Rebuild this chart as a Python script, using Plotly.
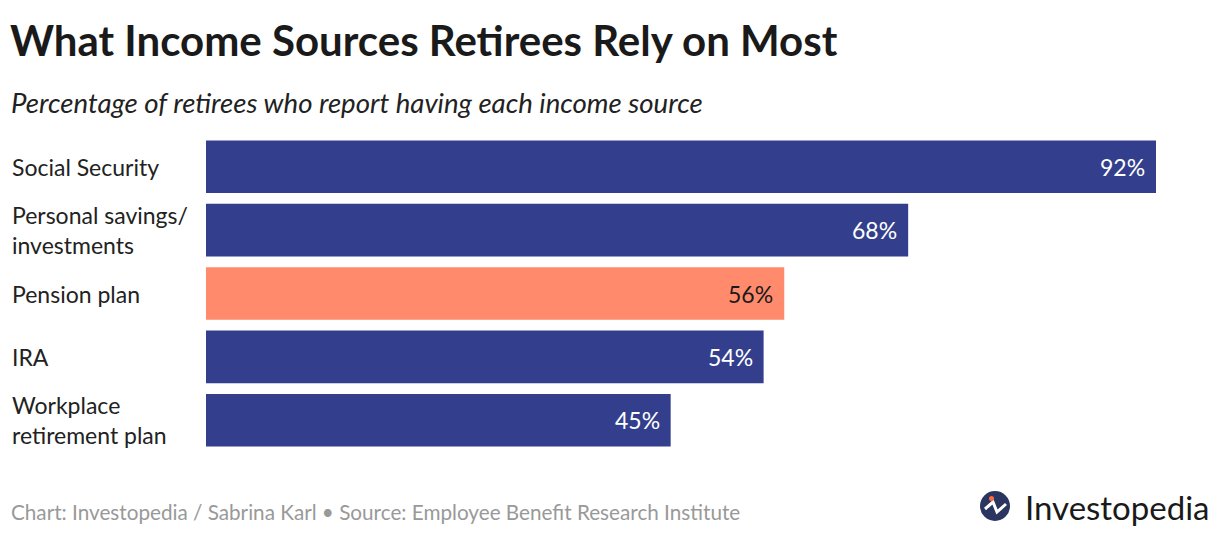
import plotly.graph_objects as go

# data
sources = ["Social Security", "Personal savings/<br>investments", "Pension plan",
           "IRA", "Workplace<br>retirement plan"]
share = [92, 68, 56, 54, 45]
highlight = "Pension plan"

navy = "#333f8c"
coral = "#ff8b6c"
font = "Lato"

# page has an 8px body margin, so the figure sits at (8, 8) in the screenshot
W, H = 1220, 536
OFF = 8
L, R, T, B = 206 - OFF, W - (1156 - OFF), 135 - OFF, H - (452 - OFF)
plot_w = W - L - R
plot_h = H - T - B


def px(x):
    # screenshot x pixel -> paper coordinate
    return (x - OFF - L) / plot_w


def py(y):
    # screenshot y pixel -> paper coordinate
    return (H - B - (y - OFF)) / plot_h


colors = [coral if s == highlight else navy for s in sources]

fig = go.Figure(go.Bar(
    y=sources,
    x=share,
    orientation="h",
    marker=dict(color=colors, line=dict(width=0)),
    hoverinfo="skip",
))

# value labels just inside the bar ends
for s, v in zip(sources, share):
    fig.add_annotation(
        x=v, xref="x", y=s, yref="y", xshift=-9,
        text=f"{v}%", showarrow=False, xanchor="right", yanchor="middle",
        font=dict(family=font, size=23, color="#1a1a1a" if s == highlight else "white"),
    )

# left-aligned category labels
for s in sources:
    fig.add_annotation(
        x=px(10), xref="paper", y=s, yref="y",
        text=s, showarrow=False, xanchor="left", align="left",
        font=dict(family=font, size=23, color="#222"),
    )

fig.update_layout(
    width=W, height=H,
    margin=dict(l=L, r=R, t=T, b=B),
    paper_bgcolor="white", plot_bgcolor="white",
    bargap=0.17,
    showlegend=False,
    xaxis=dict(range=[0, 92], visible=False, fixedrange=True),
    yaxis=dict(autorange="reversed", visible=False, fixedrange=True),
)

# title, subtitle, footer
fig.add_annotation(
    x=px(8), xref="paper", y=py(40), yref="paper",
    text="<b>What Income Sources Retirees Rely on Most</b>", showarrow=False,
    xanchor="left", yanchor="middle",
    font=dict(family=font, size=42, color="#1a1a1a"),
)
fig.add_annotation(
    x=px(9), xref="paper", y=py(103), yref="paper",
    text="<i>Percentage of retirees who report having each income source</i>",
    showarrow=False, xanchor="left", yanchor="middle",
    font=dict(family=font, size=27.6, color="#222"),
)
fig.add_annotation(
    x=px(9), xref="paper", y=py(512), yref="paper",
    text="Chart: Investopedia / Sabrina Karl • Source: Employee Benefit Research Institute",
    showarrow=False, xanchor="left", yanchor="middle",
    font=dict(family=font, size=20.7, color="#999999"),
)
fig.add_annotation(
    x=px(1212), xref="paper", y=py(507), yref="paper",
    text="Investopedia", showarrow=False, xanchor="right", yanchor="middle",
    font=dict(family=font, size=33, color="#1a1a1a"),
)

# logo mark
cx, cy, r = 995, 506, 15
fig.add_shape(type="circle", xref="paper", yref="paper",
              x0=px(cx - r), x1=px(cx + r), y0=py(cy + r), y1=py(cy - r),
              fillcolor="#2a3560", line=dict(width=0))
fig.add_shape(type="path", xref="paper", yref="paper",
              path=(f"M {px(cx - 10)},{py(cy + 3)} L {px(cx - 2)},{py(cy - 4)} "
                    f"L {px(cx + 2)},{py(cy + 6)} L {px(cx + 11)},{py(cy - 2)}"),
              line=dict(color="white", width=3))
fig.add_shape(type="circle", xref="paper", yref="paper",
              x0=px(cx - 6), x1=px(cx - 1), y0=py(cy - 5), y1=py(cy - 10),
              fillcolor="#ff6a3d", line=dict(width=0))

fig.write_html("out.html")
